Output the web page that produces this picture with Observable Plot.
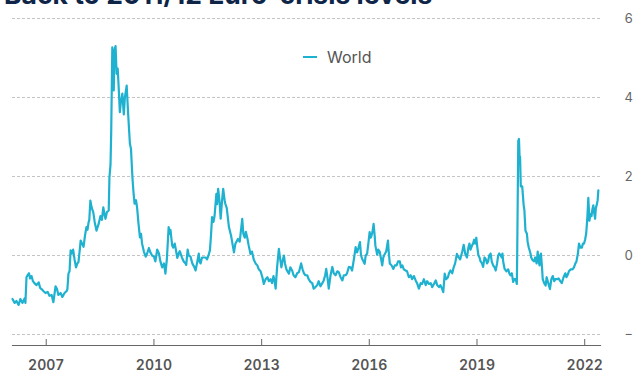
<!DOCTYPE html>
<html><head><meta charset="utf-8">
<script src="https://cdn.jsdelivr.net/npm/d3@7"></script>
<script src="https://cdn.jsdelivr.net/npm/@observablehq/plot@0.6"></script>
<style>
body{margin:0;background:#fff;overflow:hidden}
#wrap{position:relative;width:633px;height:371px;overflow:hidden}
#chart{position:absolute;left:0;top:0}
#title{position:absolute;left:4px;top:-19px;font:700 26.5px Inter,sans-serif;color:#0e2548;white-space:nowrap;line-height:26.5px;z-index:2}
#legend{position:absolute;left:303px;top:47px;font:400 16px Inter,sans-serif;color:#555;display:flex;align-items:center;z-index:2}
#legend .sw{display:inline-block;width:14px;height:2.5px;background:#1fb1d0;margin-right:10px}
</style></head><body>
<div id="wrap"><div id="chart"></div><div id="title">Back to 2011/12 Euro-crisis levels</div><div id="legend"><span class="sw"></span>World</div></div>
<script>
const seriesName = "World";
const xTickYears = [2007, 2010, 2013, 2016, 2019, 2022];
const yTicks = [-2, 0, 2, 4, 6];
const xDomainYears = [2006.06, 2022.44];
// [decimal year, value]
const world = [
[2006.06,-1.10],[2006.12,-1.20],[2006.17,-1.15],[2006.23,-1.25],[2006.28,-1.10],[2006.34,-1.20],[2006.40,-1.08],[2006.42,-1.20],
[2006.45,-0.55],[2006.48,-0.50],[2006.52,-0.45],[2006.55,-0.58],[2006.59,-0.52],[2006.63,-0.65],[2006.67,-0.70],[2006.73,-0.75],
[2006.79,-0.68],[2006.83,-0.82],[2006.87,-0.85],[2006.92,-0.90],[2006.98,-0.95],[2007.04,-0.92],[2007.09,-1.02],[2007.15,-1.00],
[2007.20,-1.18],[2007.26,-0.78],[2007.30,-0.85],[2007.34,-1.00],[2007.40,-0.95],[2007.45,-1.05],[2007.51,-0.95],[2007.57,-0.90],
[2007.59,-0.85],[2007.62,-0.46],[2007.65,-0.40],[2007.68,0.13],[2007.71,0.05],[2007.75,0.15],[2007.79,-0.10],[2007.83,-0.30],
[2007.87,-0.20],[2007.90,-0.16],[2007.93,0.10],[2007.96,0.38],[2008.00,0.30],[2008.04,0.22],[2008.08,0.50],[2008.12,0.72],
[2008.15,0.65],[2008.18,0.84],[2008.20,0.90],[2008.23,1.39],[2008.27,1.20],[2008.31,1.10],[2008.35,0.85],[2008.40,0.63],
[2008.46,0.80],[2008.51,1.00],[2008.55,0.90],[2008.59,1.22],[2008.62,1.05],[2008.65,0.93],[2008.69,1.10],[2008.74,1.14],
[2008.76,1.98],[2008.79,2.30],[2008.81,3.16],[2008.84,5.27],[2008.86,4.60],[2008.88,4.18],[2008.90,5.20],[2008.93,5.30],
[2008.96,4.60],[2008.99,4.73],[2009.02,4.20],[2009.05,3.63],[2009.08,3.90],[2009.12,4.10],[2009.16,3.57],[2009.19,4.00],
[2009.24,4.30],[2009.28,3.60],[2009.33,2.83],[2009.36,2.70],[2009.40,1.98],[2009.43,1.60],[2009.46,1.31],[2009.50,1.40],
[2009.53,1.22],[2009.57,0.80],[2009.61,0.46],[2009.64,0.55],[2009.67,0.30],[2009.72,0.10],[2009.77,-0.03],[2009.81,0.05],
[2009.86,0.19],[2009.90,0.08],[2009.95,0.00],[2010.00,-0.03],[2010.04,-0.15],[2010.09,0.15],[2010.14,0.05],[2010.18,-0.15],
[2010.23,-0.30],[2010.28,-0.20],[2010.32,-0.46],[2010.36,-0.10],[2010.41,0.72],[2010.44,0.55],[2010.46,0.65],[2010.49,0.40],
[2010.51,0.25],[2010.54,0.20],[2010.58,0.30],[2010.62,0.10],[2010.65,-0.06],[2010.69,0.05],[2010.72,0.11],[2010.78,-0.05],
[2010.83,-0.15],[2010.88,-0.20],[2010.90,-0.24],[2010.94,0.15],[2010.97,0.00],[2011.02,-0.03],[2011.07,-0.20],[2011.13,-0.30],
[2011.16,-0.38],[2011.20,-0.20],[2011.25,0.05],[2011.27,-0.15],[2011.30,-0.20],[2011.34,-0.05],[2011.39,-0.05],[2011.44,-0.05],
[2011.48,-0.10],[2011.52,0.00],[2011.56,0.13],[2011.59,0.50],[2011.62,0.97],[2011.66,0.85],[2011.69,1.00],[2011.74,1.56],
[2011.76,1.30],[2011.79,1.69],[2011.83,1.35],[2011.86,0.93],[2011.90,1.40],[2011.93,1.69],[2011.97,1.40],[2011.99,1.31],
[2012.03,1.20],[2012.09,0.72],[2012.15,0.50],[2012.23,0.08],[2012.27,0.30],[2012.34,0.42],[2012.39,0.35],[2012.42,0.60],
[2012.46,0.93],[2012.49,0.55],[2012.53,0.45],[2012.56,0.60],[2012.60,0.45],[2012.64,0.25],[2012.69,0.04],[2012.73,0.10],
[2012.78,-0.10],[2012.83,-0.20],[2012.88,-0.25],[2012.92,-0.35],[2012.97,-0.40],[2013.02,-0.55],[2013.06,-0.72],[2013.11,-0.60],
[2013.16,-0.55],[2013.20,-0.65],[2013.25,-0.60],[2013.29,-0.70],[2013.33,-0.52],[2013.36,-0.65],[2013.39,-0.84],[2013.43,-0.30],
[2013.48,0.17],[2013.51,-0.05],[2013.55,-0.30],[2013.58,-0.15],[2013.62,0.00],[2013.65,-0.20],[2013.69,-0.35],[2013.76,-0.46],
[2013.80,-0.30],[2013.85,-0.38],[2013.89,-0.50],[2013.94,-0.55],[2013.99,-0.45],[2014.04,-0.42],[2014.10,-0.20],[2014.14,-0.35],
[2014.18,-0.45],[2014.22,-0.50],[2014.27,-0.50],[2014.31,-0.60],[2014.36,-0.67],[2014.41,-0.70],[2014.45,-0.84],[2014.50,-0.80],
[2014.55,-0.75],[2014.59,-0.65],[2014.64,-0.78],[2014.69,-0.70],[2014.73,-0.63],[2014.77,-0.50],[2014.80,-0.34],[2014.84,-0.60],
[2014.87,-0.84],[2014.92,-0.50],[2014.97,-0.29],[2015.01,-0.45],[2015.06,-0.50],[2015.11,-0.40],[2015.15,-0.42],[2015.20,-0.55],
[2015.25,-0.63],[2015.29,-0.50],[2015.34,-0.50],[2015.38,-0.45],[2015.43,-0.29],[2015.48,-0.30],[2015.52,-0.38],[2015.57,-0.10],
[2015.62,0.21],[2015.66,0.08],[2015.70,0.20],[2015.74,0.34],[2015.77,0.00],[2015.80,-0.08],[2015.84,-0.15],[2015.87,-0.21],
[2015.90,0.00],[2015.94,0.05],[2015.98,0.35],[2016.01,0.59],[2016.04,0.45],[2016.06,0.50],[2016.09,0.60],[2016.12,0.80],
[2016.15,0.50],[2016.17,0.25],[2016.22,0.02],[2016.25,0.15],[2016.29,0.10],[2016.32,-0.05],[2016.36,-0.25],[2016.39,-0.05],
[2016.42,0.02],[2016.47,0.10],[2016.52,0.38],[2016.54,0.10],[2016.57,-0.20],[2016.62,-0.25],[2016.67,-0.34],[2016.71,-0.25],
[2016.76,-0.25],[2016.80,-0.15],[2016.85,-0.15],[2016.88,-0.30],[2016.92,-0.25],[2016.96,-0.35],[2017.01,-0.38],[2017.05,-0.40],
[2017.10,-0.55],[2017.15,-0.50],[2017.19,-0.60],[2017.24,-0.52],[2017.29,-0.63],[2017.33,-0.70],[2017.38,-0.84],[2017.43,-0.70],
[2017.47,-0.72],[2017.52,-0.60],[2017.57,-0.75],[2017.61,-0.65],[2017.66,-0.72],[2017.71,-0.70],[2017.75,-0.80],[2017.80,-0.72],
[2017.85,-0.63],[2017.89,-0.75],[2017.94,-0.80],[2017.98,-0.75],[2018.03,-0.85],[2018.06,-0.93],[2018.10,-0.46],[2018.14,-0.60],
[2018.19,-0.55],[2018.22,-0.45],[2018.26,-0.38],[2018.31,-0.45],[2018.35,-0.30],[2018.39,-0.20],[2018.44,0.04],[2018.49,-0.05],
[2018.53,-0.10],[2018.59,0.10],[2018.63,0.27],[2018.67,0.05],[2018.72,-0.05],[2018.76,0.20],[2018.79,0.30],[2018.82,0.15],
[2018.86,0.25],[2018.89,0.30],[2018.92,0.40],[2018.95,0.30],[2018.98,0.45],[2019.01,0.20],[2019.04,0.00],[2019.07,-0.05],
[2019.10,-0.15],[2019.14,-0.20],[2019.17,-0.29],[2019.21,-0.05],[2019.25,-0.10],[2019.28,-0.20],[2019.31,-0.15],[2019.34,0.00],
[2019.38,0.05],[2019.41,-0.15],[2019.45,-0.25],[2019.49,-0.30],[2019.52,-0.38],[2019.56,-0.20],[2019.59,0.00],[2019.62,0.05],
[2019.66,0.00],[2019.69,-0.05],[2019.71,0.05],[2019.73,-0.15],[2019.77,-0.34],[2019.82,-0.40],[2019.87,-0.35],[2019.90,-0.45],
[2019.93,-0.50],[2019.97,-0.45],[2020.01,-0.67],[2020.04,-0.60],[2020.08,-0.60],[2020.11,-0.72],[2020.12,0.00],[2020.15,2.90],
[2020.17,2.95],[2020.19,2.40],[2020.20,2.50],[2020.22,1.75],[2020.26,1.75],[2020.30,1.27],[2020.32,1.15],[2020.35,0.63],
[2020.39,0.55],[2020.41,0.35],[2020.44,0.21],[2020.49,0.05],[2020.51,-0.05],[2020.55,-0.12],[2020.59,-0.15],[2020.62,-0.05],
[2020.66,-0.20],[2020.69,0.10],[2020.71,-0.10],[2020.74,-0.25],[2020.76,0.00],[2020.78,0.05],[2020.81,-0.30],[2020.83,-0.60],
[2020.87,-0.70],[2020.91,-0.76],[2020.94,-0.55],[2020.97,-0.65],[2021.00,-0.75],[2021.03,-0.85],[2021.07,-0.60],[2021.11,-0.52],
[2021.15,-0.65],[2021.18,-0.60],[2021.23,-0.60],[2021.27,-0.58],[2021.32,-0.65],[2021.36,-0.70],[2021.41,-0.55],[2021.46,-0.45],
[2021.49,-0.55],[2021.52,-0.50],[2021.56,-0.40],[2021.61,-0.35],[2021.66,-0.35],[2021.70,-0.30],[2021.74,-0.20],[2021.77,-0.15],
[2021.81,0.05],[2021.84,0.30],[2021.88,0.20],[2021.92,0.20],[2021.95,0.30],[2021.98,0.30],[2022.01,0.40],[2022.04,0.55],
[2022.07,0.90],[2022.10,1.46],[2022.12,1.10],[2022.13,0.88],[2022.16,1.05],[2022.19,1.00],[2022.21,1.15],[2022.24,1.27],
[2022.26,1.10],[2022.29,0.93],[2022.31,1.20],[2022.34,1.30],[2022.36,1.40],[2022.38,1.65]
];

const toDate = y => {
  const yr = Math.floor(y);
  const s = Date.UTC(yr, 0, 1), e = Date.UTC(yr + 1, 0, 1);
  return new Date(s + (y - yr) * (e - s));
};
const data = world.map(([t, v]) => ({date: toDate(t), value: v, series: seriesName}));
const xTicks = xTickYears.map(y => new Date(Date.UTC(y, 0, 1)));

const chart = Plot.plot({
  width: 633, height: 371,
  marginTop: 18, marginBottom: 26, marginLeft: 12, marginRight: 33,
  style: {fontFamily: "Inter, sans-serif", background: "transparent", overflow: "visible"},
  x: {type: "utc", domain: xDomainYears.map(toDate)},
  y: {domain: [-2, 6], range: [334, 18]},
  marks: [
    Plot.gridY(yTicks, {stroke: "#c4c4c4", strokeOpacity: 1, strokeDasharray: "3,2"}),
    Plot.axisY(yTicks, {anchor: "right", tickSize: 0, tickPadding: 24, fill: "#666", fontSize: 13, label: null}),
    Plot.frame({anchor: "bottom", stroke: "#666", strokeWidth: 1.2}),
    Plot.axisX(xTicks, {anchor: "bottom", tickSize: -6, tickPadding: 21, stroke: "#666", fill: "#555", fontSize: 14, fontWeight: 600, tickFormat: "%Y", label: null}),
    Plot.lineY(data, {x: "date", y: "value", stroke: "#1fb1d0", strokeWidth: 2.2})
  ]
});
document.getElementById("chart").appendChild(chart);
</script>
</body></html>
